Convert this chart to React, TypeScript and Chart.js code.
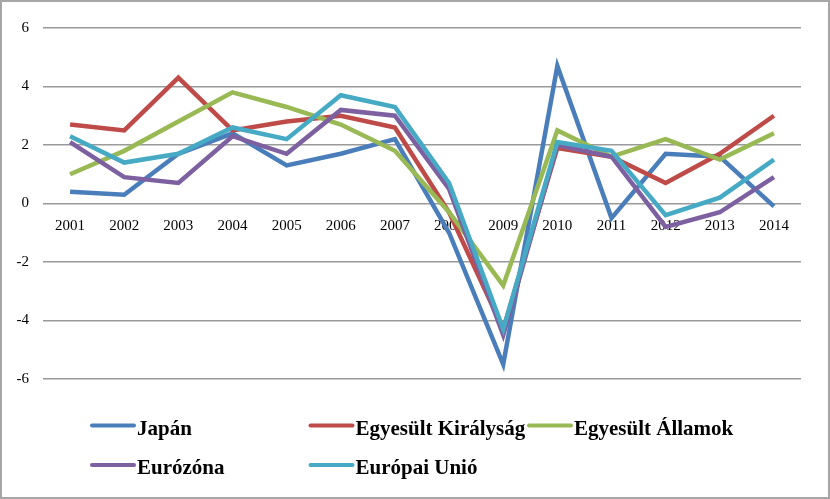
import React, { useEffect, useRef } from "react";
import { Chart, registerables } from "chart.js";

Chart.register(...registerables);

const years = ["2001","2002","2003","2004","2005","2006","2007","2008","2009","2010","2011","2012","2013","2014"];
const japan = [0.4, 0.3, 1.7, 2.4, 1.3, 1.7, 2.2, -1.0, -5.5, 4.7, -0.5, 1.7, 1.6, -0.1];
const uk = [2.7, 2.5, 4.3, 2.5, 2.8, 3.0, 2.6, -0.3, -4.3, 1.9, 1.6, 0.7, 1.7, 3.0];
const usa = [1.0, 1.8, 2.8, 3.8, 3.3, 2.7, 1.8, -0.3, -2.8, 2.5, 1.6, 2.2, 1.5, 2.4];
const eurozone = [2.1, 0.9, 0.7, 2.3, 1.7, 3.2, 3.0, 0.5, -4.5, 2.0, 1.6, -0.8, -0.3, 0.9];
const eu = [2.3, 1.4, 1.7, 2.6, 2.2, 3.7, 3.3, 0.7, -4.3, 2.1, 1.8, -0.4, 0.2, 1.5];

const seriesNames = ["Japán", "Egyesült Királyság", "Egyesült Államok", "Eurózóna", "Európai Unió"];
const seriesColors = ["#4a7ebb", "#be4b48", "#98b954", "#7d60a0", "#46aac5"];
const seriesValues = [japan, uk, usa, eurozone, eu];

const FONT = "'Liberation Serif', 'Times New Roman', serif";

const gridLegend = {
  id: "gridLegend",
  afterDraw(chart: any) {
    const ctx = chart.ctx;
    const cols = 3;
    const x0 = 92;
    const colW = 218.5;
    const lineY = [425.5, 465];
    const baseY = [435, 474];
    ctx.save();
    ctx.font = `bold 21px ${FONT}`;
    ctx.textBaseline = "alphabetic";
    ctx.textAlign = "left";
    chart.data.datasets.forEach((ds: any, i: number) => {
      const c = i % cols;
      const r = Math.floor(i / cols);
      const x = x0 + c * colW;
      ctx.strokeStyle = ds.borderColor;
      ctx.lineWidth = 4;
      ctx.lineCap = "round";
      ctx.beginPath();
      ctx.moveTo(x, lineY[r]);
      ctx.lineTo(x + 42, lineY[r]);
      ctx.stroke();
      ctx.fillStyle = "#000";
      ctx.fillText(ds.label, x + 45, baseY[r]);
    });
    ctx.restore();
  },
};

export default function App() {
  const ref = useRef<HTMLCanvasElement>(null);
  useEffect(() => {
    document.body.style.margin = "0";
    const chart = new Chart(ref.current!, {
      type: "line",
      data: {
        labels: years,
        datasets: seriesValues.map((vals, i) => ({
          label: seriesNames[i],
          data: vals,
          borderColor: seriesColors[i],
          backgroundColor: seriesColors[i],
          borderWidth: 4.5,
          pointRadius: 0,
          tension: 0,
          order: seriesValues.length - i,
        })),
      },
      options: {
        animation: false,
        responsive: false,
        layout: { padding: { left: 0, top: 28, right: 29, bottom: 120 } },
        plugins: { legend: { display: false }, tooltip: { enabled: false } },
        scales: {
          x: {
            type: "category",
            position: { y: 0 } as any,
            offset: true,
            grid: { display: false },
            border: { display: false },
            ticks: {
              color: "#000",
              font: { family: FONT, size: 15 },
              padding: 6,
              maxRotation: 0,
              autoSkip: false,
            },
          },
          y: {
            min: -6,
            max: 6,
            ticks: {
              stepSize: 2,
              color: "#000",
              font: { family: FONT, size: 15 },
              padding: 14,
            },
            grid: { color: "#9a9a9a", lineWidth: 1.5, drawTicks: false },
            border: { display: false },
            afterFit: (scale: any) => {
              scale.width = 43;
            },
          },
        },
      },
      plugins: [gridLegend],
    });
    return () => chart.destroy();
  }, []);
  return (
    <div style={{ position: "fixed", left: 0, top: 0, width: 830, height: 499 }}>
      <div
        style={{
          position: "absolute",
          left: 0,
          top: 0,
          width: 830,
          height: 499,
          border: "2px solid #a6a6a6",
          boxSizing: "border-box",
        }}
      />
      <canvas ref={ref} width={830} height={499} style={{ position: "absolute", left: 0, top: 0 }} />
    </div>
  );
}
